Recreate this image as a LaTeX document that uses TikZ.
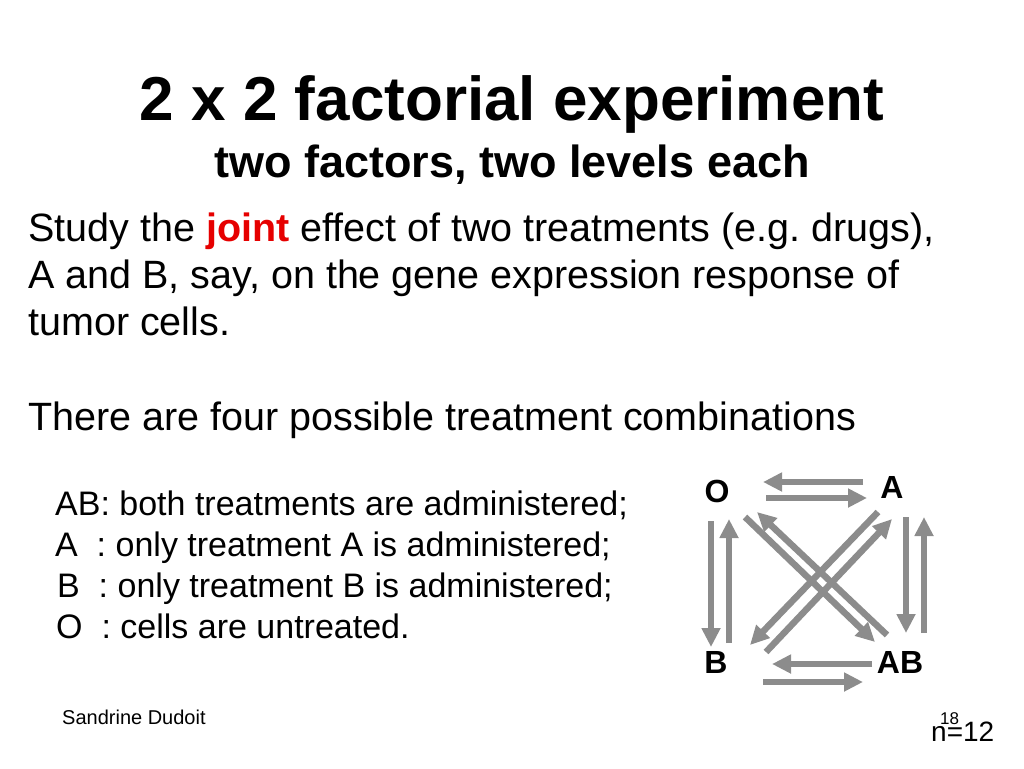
\documentclass[tikz,border=0pt]{standalone}
\usepackage{fontspec}
\setmainfont{Liberation Sans}
\usetikzlibrary{arrows.meta}
\definecolor{arrgray}{RGB}{140,140,140}
\definecolor{jointred}{RGB}{230,0,0}
\frenchspacing
\begin{document}
\begin{tikzpicture}[x=1pt,y=-1pt,
  txt/.style={inner sep=0pt,anchor=base west},
  lbl/.style={inner sep=0pt,anchor=base,font=\fontsize{32}{36}\selectfont\bfseries},
  arr/.style={draw=arrgray,line width=6.5pt,-{Triangle[length=19pt,width=18pt]}}]
\useasboundingbox (0,0) rectangle (1024,768);
\node[inner sep=0pt,anchor=base] (title) at (512,120) {\fontsize{62}{70}\selectfont\bfseries 2 x 2 factorial experiment};
\node[inner sep=0pt,anchor=base] (subtitle) at (512,177) {\fontsize{45}{50}\selectfont\bfseries two factors, two levels each};
\node[txt] (l1) at (28,241) {\fontsize{39.5}{46}\selectfont Study the {\color{jointred}\bfseries joint} effect of two treatments (e.g. drugs),};
\node[txt] (l2) at (28,288) {\fontsize{39.5}{46}\selectfont A and B, say, on the gene expression response of};
\node[txt] (l3) at (28,335) {\fontsize{39.5}{46}\selectfont tumor cells.};
\node[txt] (l4) at (28,430) {\fontsize{39.5}{46}\selectfont There are four possible treatment combinations};
\node[txt] (m1) at (55,515) {\fontsize{34}{38}\selectfont AB: both treatments are administered;};
\node[txt] (m2) at (55,556) {\fontsize{34}{38}\selectfont A\ \ : only treatment A is administered;};
\node[txt] (m3) at (57,597) {\fontsize{34}{38}\selectfont B\ \ : only treatment B is administered;};
\node[txt] (m4) at (56,638) {\fontsize{34}{38}\selectfont O\ \ : cells are untreated.};
\node[txt] (author) at (62,724) {\fontsize{20}{22}\selectfont Sandrine Dudoit};
\node[txt] (page) at (940,724) {\fontsize{17}{19}\selectfont 18};
\node[txt] (n) at (931,741) {\fontsize{28}{30}\selectfont n=12};
% factorial labels
\node[lbl] (O) at (717,502) {O};
\node[lbl] (A) at (892,498) {A};
\node[lbl] (B) at (716,673) {B};
\node[lbl] (AB) at (900,673) {AB};
% arrow end coordinates
\coordinate (oa1) at (863,482); \coordinate (oa2) at (763,482);
\coordinate (oa3) at (766,498); \coordinate (oa4) at (867,498);
\coordinate (ob1) at (711,521); \coordinate (ob2) at (711,647);
\coordinate (ob3) at (729,643); \coordinate (ob4) at (729,519);
\coordinate (ac1) at (906,517); \coordinate (ac2) at (906,633);
\coordinate (ac3) at (924,633); \coordinate (ac4) at (924,517);
\coordinate (bc1) at (872,664); \coordinate (bc2) at (772,664);
\coordinate (bc3) at (763,682); \coordinate (bc4) at (863,682);
\coordinate (d1) at (745,517); \coordinate (d2) at (875,642);
\coordinate (d3) at (887,635); \coordinate (d4) at (757,512);
\coordinate (d5) at (878,512); \coordinate (d6) at (750,645);
\coordinate (d7) at (766,652); \coordinate (d8) at (892,519);
\draw[arr] (oa1) -- (oa2);
\draw[arr] (oa3) -- (oa4);
\draw[arr] (ob1) -- (ob2);
\draw[arr] (ob3) -- (ob4);
\draw[arr] (ac1) -- (ac2);
\draw[arr] (ac3) -- (ac4);
\draw[arr] (bc1) -- (bc2);
\draw[arr] (bc3) -- (bc4);
\draw[arr] (d1) -- (d2);
\draw[arr] (d3) -- (d4);
\draw[arr] (d5) -- (d6);
\draw[arr] (d7) -- (d8);
\end{tikzpicture}
\end{document}
